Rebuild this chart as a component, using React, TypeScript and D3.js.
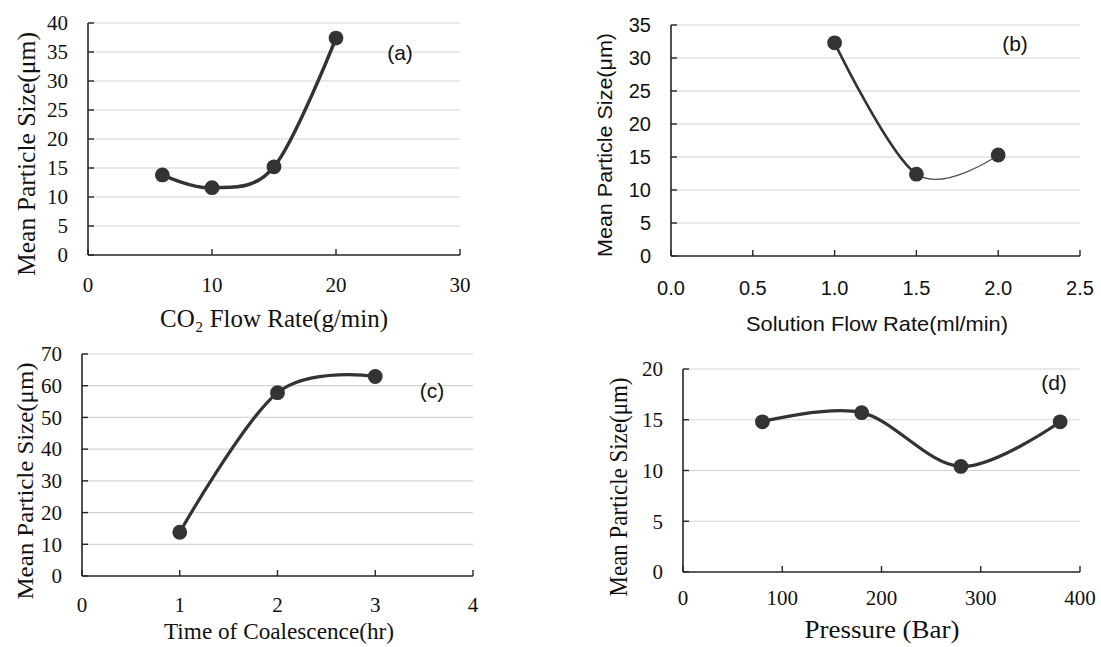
import * as d3 from 'd3';

const W = 1101;
const H = 647;

// (a) CO2 flow rate
const co2Flow = [6, 10, 15, 20];
const sizeA = [13.8, 11.6, 15.2, 37.4];
const ticksAx = [0, 10, 20, 30];
const ticksAy = [0, 5, 10, 15, 20, 25, 30, 35, 40];

// (b) solution flow rate
const solutionFlow = [1.0, 1.5, 2.0];
const sizeB = [32.3, 12.4, 15.3];
const ticksBx = [0, 0.5, 1.0, 1.5, 2.0, 2.5];
const ticksBy = [0, 5, 10, 15, 20, 25, 30, 35];

// (c) time of coalescence
const coalTime = [1, 2, 3];
const sizeC = [13.8, 57.8, 62.9];
const ticksCx = [0, 1, 2, 3, 4];
const ticksCy = [0, 10, 20, 30, 40, 50, 60, 70];

// (d) pressure
const pressure = [80, 180, 280, 380];
const sizeD = [14.8, 15.7, 10.4, 14.8];
const ticksDx = [0, 100, 200, 300, 400];
const ticksDy = [0, 5, 10, 15, 20];

const SERIF = '"Liberation Serif", "Times New Roman", serif';
const SANS = '"Liberation Sans", Arial, sans-serif';

const panels = [
  {
    id: 'a', xs: co2Flow, ys: sizeA, xTicks: ticksAx, yTicks: ticksAy,
    left: 88, right: 460, top: 23, bottom: 255,
    tickFont: SERIF, tickSize: 21, xFmt: (v) => String(v), xLabelDy: 30,
    xTitle: 'CO₂ Flow Rate(g/min)', xTitleX: 274, xTitleY: 318, xTitleLen: 228,
    yTitleX: 26, yTitleY: 154, yTitleLen: 244, titleFont: SERIF, titleSize: 25,
    tag: '(a)', tagX: 400, tagY: 53, lineW: 3.5,
  },
  {
    id: 'b', xs: solutionFlow, ys: sizeB, xTicks: ticksBx, yTicks: ticksBy,
    left: 671, right: 1080, top: 25, bottom: 256,
    tickFont: SANS, tickSize: 20, xFmt: d3.format('.1f'), xLabelDy: 32,
    xTitle: 'Solution Flow Rate(ml/min)', xTitleX: 877, xTitleY: 324, xTitleLen: 262,
    yTitleX: 605, yTitleY: 145, yTitleLen: 224, titleFont: SANS, titleSize: 21,
    tag: '(b)', tagX: 1015, tagY: 44, lineW: 2.6, thinAfter: 1.5,
  },
  {
    id: 'c', xs: coalTime, ys: sizeC, xTicks: ticksCx, yTicks: ticksCy,
    left: 82, right: 473, top: 354, bottom: 576,
    tickFont: SERIF, tickSize: 21, xFmt: (v) => String(v), xLabelDy: 29,
    xTitle: 'Time of Coalescence(hr)', xTitleX: 279, xTitleY: 631, xTitleLen: 230,
    yTitleX: 25, yTitleY: 481, yTitleLen: 237, titleFont: SERIF, titleSize: 24,
    tag: '(c)', tagX: 432, tagY: 391, lineW: 3.2,
  },
  {
    id: 'd', xs: pressure, ys: sizeD, xTicks: ticksDx, yTicks: ticksDy,
    left: 683, right: 1080, top: 369, bottom: 572,
    tickFont: SERIF, tickSize: 21, xFmt: (v) => String(v), xLabelDy: 26,
    xTitle: 'Pressure (Bar)', xTitleX: 882, xTitleY: 629, xTitleLen: 155,
    yTitleX: 618, yTitleY: 487, yTitleLen: 219, titleFont: SERIF, titleSize: 25,
    tag: '(d)', tagX: 1054, tagY: 383, lineW: 3.2,
  },
];

function Panel({ p }) {
  const x = d3.scaleLinear()
    .domain([p.xTicks[0], p.xTicks[p.xTicks.length - 1]])
    .range([p.left, p.right]);
  const y = d3.scaleLinear()
    .domain([p.yTicks[0], p.yTicks[p.yTicks.length - 1]])
    .range([p.bottom, p.top]);
  const pts = p.xs.map((v, i) => [v, p.ys[i]]);
  const line = d3.line()
    .x((d) => x(d[0]))
    .y((d) => y(d[1]))
    .curve(d3.curveCardinal.tension(0));
  const path = line(pts);
  const clipId = 'clip-' + p.id;
  const axisColor = '#262626';

  return (
    <g>
      {p.yTicks.slice(1).map((t) => (
        <line key={'g' + t} x1={p.left} x2={p.right} y1={y(t)} y2={y(t)}
          stroke="#d4d4d4" strokeWidth={1.2} />
      ))}
      <line x1={p.left} x2={p.left} y1={p.top} y2={p.bottom} stroke={axisColor} strokeWidth={1.6} />
      <line x1={p.left} x2={p.right} y1={p.bottom} y2={p.bottom} stroke={axisColor} strokeWidth={1.6} />
      {p.yTicks.map((t) => (
        <line key={'yt' + t} x1={p.left} x2={p.left + 6} y1={y(t)} y2={y(t)} stroke={axisColor} strokeWidth={1.4} />
      ))}
      {p.xTicks.map((t) => (
        <line key={'xt' + t} x1={x(t)} x2={x(t)} y1={p.bottom} y2={p.bottom - 6} stroke={axisColor} strokeWidth={1.4} />
      ))}
      {p.yTicks.map((t) => (
        <text key={'yl' + t} x={p.left - 20} y={y(t)} dy="0.35em" textAnchor="end"
          fontFamily={p.tickFont} fontSize={p.tickSize} fill="#111">{t}</text>
      ))}
      {p.xTicks.map((t) => (
        <text key={'xl' + t} x={x(t)} y={p.bottom + p.xLabelDy} dy="0.35em" textAnchor="middle"
          fontFamily={p.tickFont} fontSize={p.tickSize} fill="#111">{p.xFmt(t)}</text>
      ))}
      <text x={p.xTitleX} y={p.xTitleY} dy="0.35em" textAnchor="middle"
        fontFamily={p.titleFont} fontSize={p.titleSize} fill="#111"
        textLength={p.xTitleLen} lengthAdjust="spacingAndGlyphs">{p.xTitle}</text>
      <text transform={`translate(${p.yTitleX},${p.yTitleY}) rotate(-90)`} dy="0.35em" textAnchor="middle"
        fontFamily={p.titleFont} fontSize={p.titleSize} fill="#111"
        textLength={p.yTitleLen} lengthAdjust="spacingAndGlyphs">Mean Particle Size(μm)</text>
      <text x={p.tagX} y={p.tagY} dy="0.35em" textAnchor="middle"
        fontFamily={SANS} fontSize={21} fill="#111">{p.tag}</text>
      {p.thinAfter != null ? (
        <>
          <clipPath id={clipId}>
            <rect x={0} y={0} width={x(p.thinAfter)} height={H} />
          </clipPath>
          <path d={path} fill="none" stroke="#555" strokeWidth={1.3} />
          <path d={path} fill="none" stroke="#333" strokeWidth={p.lineW} clipPath={`url(#${clipId})`} />
        </>
      ) : (
        <path d={path} fill="none" stroke="#333" strokeWidth={p.lineW} />
      )}
      {pts.map((d, i) => (
        <circle key={'m' + i} cx={x(d[0])} cy={y(d[1])} r={7.4} fill="#333" />
      ))}
    </g>
  );
}

export default function App() {
  return (
    <svg width={W} height={H} viewBox={`0 0 ${W} ${H}`}
      style={{ position: 'absolute', left: 0, top: 0, background: '#fff' }}>
      <rect width={W} height={H} fill="#fff" />
      {panels.map((p) => <Panel key={p.id} p={p} />)}
    </svg>
  );
}
